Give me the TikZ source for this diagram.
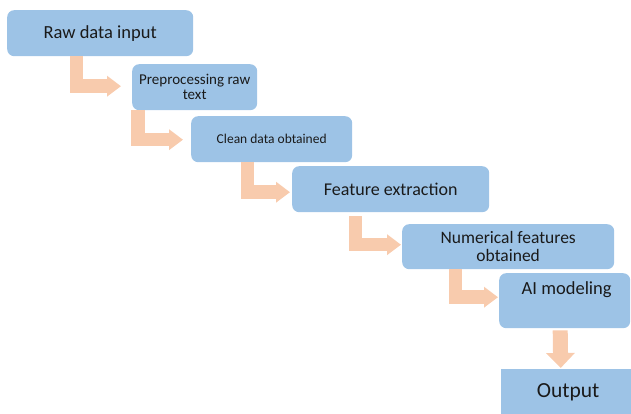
\documentclass[tikz,border=0pt]{standalone}
\usepackage{fontspec}
\setmainfont{Carlito}
\usetikzlibrary{arrows.meta,calc}
\definecolor{boxblue}{HTML}{9DC3E6}
\definecolor{arrpeach}{HTML}{F8CBAD}
\definecolor{txt}{HTML}{1A1A1A}
\begin{document}
\begin{tikzpicture}[x=1pt,y=-1pt,
  box/.style={draw=none, fill=boxblue, rounded corners=7pt, anchor=north west, inner sep=0pt, align=center, text=txt},
  flow/.style={draw=arrpeach, line width=13.5pt, line join=miter, -{Triangle[length=14pt 0 1, width=20pt 0 1]}},
  downflow/.style={draw=arrpeach, line width=15pt, -{Triangle[length=15pt 0 1, width=28pt 0 1]}}]
\clip (0,0) rectangle (631,414);
\useasboundingbox (0,0) rectangle (631,414);
\node[box, minimum width=186pt, minimum height=46pt, font=\fontsize{18.5}{18.5}\selectfont] (b1) at (7,10) {Raw data input};
\node[box, minimum width=125pt, minimum height=46pt, font=\fontsize{15}{15}\selectfont] (b2) at (132,64) {Preprocessing raw\\text};
\node[box, minimum width=161pt, minimum height=46pt, font=\fontsize{13.5}{13.5}\selectfont] (b3) at (191,116) {Clean data obtained};
\node[box, minimum width=197pt, minimum height=46pt, font=\fontsize{18}{18}\selectfont] (b4) at (292,166) {Feature extraction};
\node[box, minimum width=212pt, minimum height=45pt, font=\fontsize{17.5}{17.5}\selectfont] (b5) at (402,224) {Numerical features\\obtained};
\node[box, minimum width=131pt, minimum height=55pt] (b6) at (499,273) {};
\node[text=txt, inner sep=0pt, font=\fontsize{18.5}{18.5}\selectfont] (t6) at ($(b6.north)+(2,17)$) {AI modeling};
\node[box, rounded corners=0pt, minimum width=134pt, minimum height=46pt, font=\fontsize{21.5}{21.5}\selectfont] (b7) at (501,369) {Output};
\draw[flow] ($(b1.south west)+(69.5,0)$) |- ($(b2.west)+(-11,-1)$);
\draw[flow] ($(b2.south west)+(6,0)$) |- ($(b3.west)+(-8,0.5)$);
\draw[flow] ($(b3.south west)+(56.5,0)$) |- ($(b4.west)+(-2,3)$);
\draw[flow] ($(b4.south west)+(63.5,4)$) |- ($(b5.west)+(-1,-2)$);
\draw[flow] ($(b5.south west)+(53.5,0)$) |- ($(b6.west)+(-1,-3.5)$);
\draw[downflow] ($(b6.south)+(-4.5,2)$) -- ($(b7.north)+(-7.5,-1)$);
\end{tikzpicture}
\end{document}
